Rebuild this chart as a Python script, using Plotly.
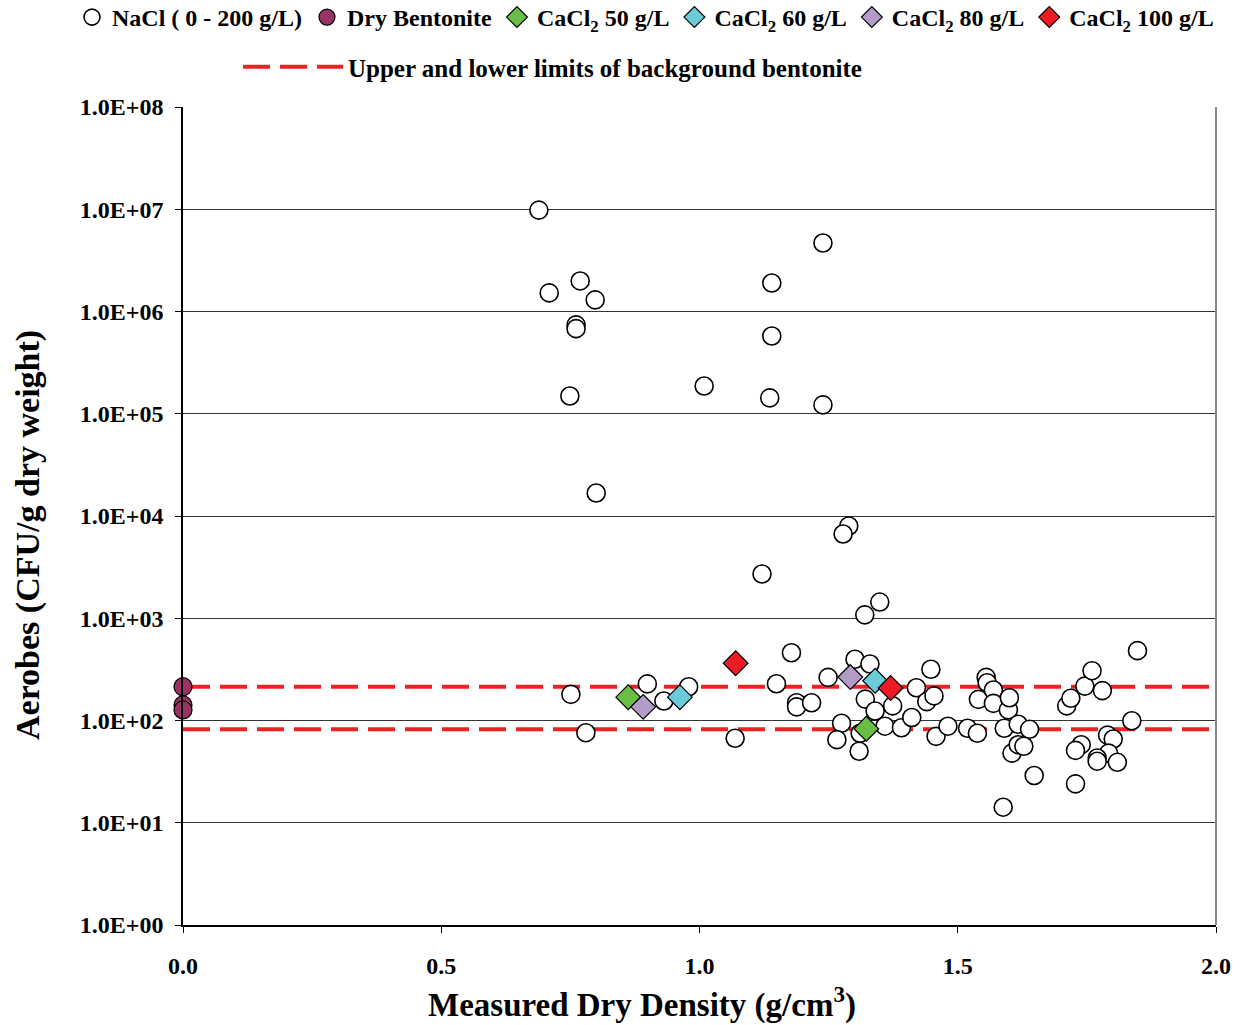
import plotly.graph_objects as go

# ---------------- data ----------------
nacl_x = [0.689, 0.709, 0.769, 0.798, 0.761, 0.761, 0.749, 0.800, 1.009, 1.239,
          1.140, 1.140, 1.136, 1.239, 1.289, 1.278, 1.121, 1.320, 1.349,
          0.751, 0.780, 0.899, 0.931, 0.979, 1.069, 1.149, 1.178, 1.188, 1.188,
          1.217, 1.249, 1.301, 1.330, 1.321, 1.340, 1.374, 1.275, 1.266, 1.311,
          1.309, 1.359, 1.391, 1.411, 1.448, 1.420, 1.440, 1.454, 1.458, 1.481,
          1.519, 1.538, 1.555, 1.557, 1.540, 1.569, 1.569, 1.590, 1.598, 1.600,
          1.605, 1.588, 1.617, 1.639, 1.617, 1.628, 1.648, 1.711, 1.719, 1.746,
          1.760, 1.780, 1.837, 1.848, 1.790, 1.801, 1.739, 1.728, 1.792, 1.770,
          1.770, 1.809, 1.728]
nacl_y = [9.8e6, 1.52e6, 1.99e6, 1.30e6, 7.4e5, 6.8e5, 1.49e5, 1.68e4, 1.87e5, 4.68e6,
          1.9e6, 5.76e5, 1.43e5, 1.22e5, 7.98e3, 6.67e3, 2.71e3, 1.08e3, 1.44e3,
          180, 76, 228, 155, 214, 67, 229, 460, 149, 136,
          149, 264, 397, 357, 162, 124, 139, 94, 65, 75,
          50, 88, 85, 107, 317, 209, 153, 174, 70, 88,
          84, 75, 264, 234, 161, 199, 147, 84, 127, 167,
          48, 14.2, 92, 82, 58, 56, 29, 139, 165, 217,
          307, 196, 99.5, 482, 72, 66, 58, 51, 48, 43,
          40, 39, 24]

bent_x = [0.0, 0.0, 0.0]
bent_y = [214, 142, 127]

ca50_x = [0.862, 1.323]
ca50_y = [169, 83]
ca60_x = [0.962, 1.340]
ca60_y = [169, 245]
ca80_x = [0.891, 1.292]
ca80_y = [136, 266]
ca100_x = [1.070, 1.370]
ca100_y = [363, 208]

limit_x = [0.0, 2.0]
upper_limit = [214, 214]
lower_limit = [82, 82]

ytick_vals = [1, 10, 100, 1e3, 1e4, 1e5, 1e6, 1e7, 1e8]
ytick_text = ["1.0E+00", "1.0E+01", "1.0E+02", "1.0E+03", "1.0E+04",
              "1.0E+05", "1.0E+06", "1.0E+07", "1.0E+08"]
xtick_vals = [0.0, 0.5, 1.0, 1.5, 2.0]

FONT = "Liberation Serif, Times New Roman, serif"

fig = go.Figure()

# limit lines
fig.add_trace(go.Scatter(x=limit_x, y=upper_limit, mode="lines",
                         line=dict(color="#EE2222", width=4, dash="27px,10px"),
                         name="Upper and lower limits of background bentonite",
                         legend="legend2"))
fig.add_trace(go.Scatter(x=limit_x, y=lower_limit, mode="lines",
                         line=dict(color="#EE2222", width=4, dash="27px,10px"),
                         showlegend=False, legend="legend2"))

fig.add_trace(go.Scatter(x=nacl_x, y=nacl_y, mode="markers", name="NaCl ( 0 - 200 g/L)",
                         marker=dict(symbol="circle", size=18, color="white",
                                     line=dict(color="black", width=1.6))))
fig.add_trace(go.Scatter(x=bent_x, y=bent_y, mode="markers", name="Dry Bentonite",
                         cliponaxis=False,
                         marker=dict(symbol="circle", size=18, color="#993366",
                                     line=dict(color="black", width=1.2))))
for xs, ys, nm, col in [(ca50_x, ca50_y, "CaCl<sub>2</sub> 50 g/L", "#6ABD45"),
                        (ca60_x, ca60_y, "CaCl<sub>2</sub> 60 g/L", "#6CCBD8"),
                        (ca80_x, ca80_y, "CaCl<sub>2</sub> 80 g/L", "#B39BC8"),
                        (ca100_x, ca100_y, "CaCl<sub>2</sub> 100 g/L", "#ED1C24")]:
    fig.add_trace(go.Scatter(x=xs, y=ys, mode="markers", name=nm,
                             marker=dict(symbol="diamond", size=19, color=col,
                                         line=dict(color="black", width=1.2))))

fig.update_layout(
    width=1246, height=1025,
    margin=dict(l=183, r=30, t=107, b=100, autoexpand=False),
    paper_bgcolor="white", plot_bgcolor="white",
    font=dict(family=FONT, size=24, color="black", weight="bold"),
    showlegend=True,
    legend=dict(orientation="h", xref="paper", yref="paper",
                x=(72 - 183) / 1033, xanchor="left", y=(925 + 5) / 818, yanchor="top",
                font=dict(family=FONT, size=24, weight="bold"),
                itemwidth=30, tracegroupgap=0, bgcolor="rgba(0,0,0,0)"),
    legend2=dict(orientation="h", xref="container", yref="container",
                 x=238 / 1246, xanchor="left", y=1 - 44 / 1025, yanchor="top",
                 font=dict(family=FONT, size=25, weight="bold"),
                 itemwidth=100, bgcolor="rgba(0,0,0,0)"),
    xaxis=dict(range=[0, 2], tickvals=xtick_vals, tickformat=".1f",
               showgrid=False, zeroline=False, showline=True, linecolor="black",
               linewidth=1.5, ticks="outside", ticklen=6, tickcolor="black",
               ticklabelstandoff=12,
               tickfont=dict(family=FONT, size=24, weight="bold")),
    yaxis=dict(type="log", range=[0, 8], tickvals=ytick_vals, ticktext=ytick_text,
               showgrid=True, gridcolor="#333333", gridwidth=1,
               zeroline=False, showline=True, linecolor="black", linewidth=1.5,
               ticks="outside", ticklen=6, tickcolor="black",
               ticklabelstandoff=7,
               tickfont=dict(family=FONT, size=24, weight="bold")),
    annotations=[
        dict(text="Measured Dry Density (g/cm<sup>3</sup>)", xref="paper", yref="paper",
             x=(642 - 183) / 1033, y=(925 - 1002) / 818, xanchor="center", yanchor="middle",
             showarrow=False, font=dict(family=FONT, size=33, weight="bold")),
        dict(text="Aerobes (CFU/g dry weight)", xref="paper", yref="paper",
             x=(28 - 183) / 1033, y=(925 - 535) / 818, xanchor="center", yanchor="middle",
             textangle=-90, showarrow=False, font=dict(family=FONT, size=34, weight="bold")),
    ],
    shapes=[dict(type="line", xref="paper", yref="paper", x0=1, x1=1, y0=0, y1=1,
                 line=dict(color="#888888", width=2))],
)

fig.write_html("out.html")
